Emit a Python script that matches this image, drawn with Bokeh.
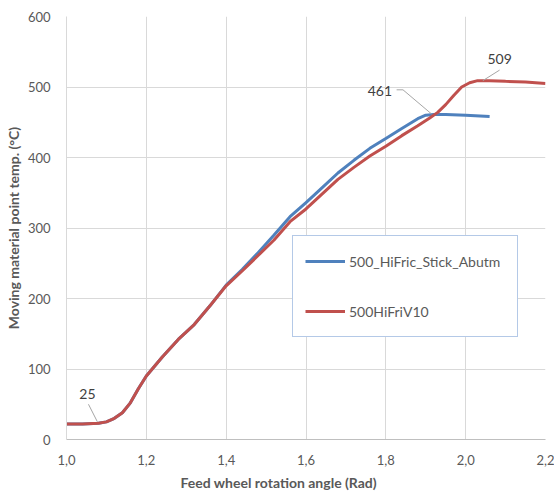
from bokeh.plotting import figure
from bokeh.models import Range1d, FixedTicker, Legend, LegendItem, Label, Title
from bokeh.embed import file_html
from bokeh.resources import INLINE

# ---- data ----
angle_stick = [1.00, 1.04, 1.08, 1.10, 1.12, 1.14, 1.16, 1.18, 1.20, 1.24, 1.28, 1.32,
               1.36, 1.40, 1.44, 1.48, 1.52, 1.56, 1.60, 1.64, 1.68, 1.72, 1.76, 1.80,
               1.84, 1.88, 1.90, 1.92, 1.95, 2.00, 2.06]
temp_stick = [22, 22, 23, 25, 30, 38, 52, 72, 90, 117, 142, 163,
              190, 219, 241, 265, 290, 316, 336, 357, 378, 396, 413, 427,
              441, 455, 460, 461, 461, 460, 458]

angle_v10 = [1.00, 1.04, 1.08, 1.10, 1.12, 1.14, 1.16, 1.18, 1.20, 1.24, 1.28, 1.32,
             1.36, 1.40, 1.44, 1.48, 1.52, 1.56, 1.60, 1.64, 1.68, 1.72, 1.76, 1.80,
             1.84, 1.88, 1.91, 1.93, 1.95, 1.97, 1.99, 2.01, 2.03, 2.06, 2.10, 2.15, 2.20]
temp_v10 = [22, 22, 23, 25, 30, 38, 52, 72, 90, 117, 142, 163,
            190, 218, 239, 261, 283, 309, 327, 348, 369, 386, 402, 416,
            431, 445, 456, 464, 475, 488, 500, 506, 509, 509, 508, 507, 505]

series_names = ["500_HiFric_Stick_Abutm", "500HiFriV10"]

x_ticks = [1.0, 1.2, 1.4, 1.6, 1.8, 2.0, 2.2]
x_tick_labels = ["1,0", "1,2", "1,4", "1,6", "1,8", "2,0", "2,2"]
y_ticks = [0, 100, 200, 300, 400, 500, 600]

x_title = "Feed  wheel rotation angle (Rad)"
y_title = "Moving material point temp. (°C)"

# annotated values and the curve points they refer to
note_texts = ["25", "461", "509"]
note_anchor_x = [1.0775, 1.914, 2.043]
note_anchor_y = [25, 462, 509]

FONT = "Lato"
TICK_COLOR = "#595959"
BLUE = "#4f81bd"
RED = "#c0504d"

p = figure(width=554, height=494, output_backend="svg", toolbar_location=None,
           x_range=Range1d(1.0, 2.2), y_range=Range1d(0, 600),
           min_border_left=66, min_border_right=9, min_border_top=16, min_border_bottom=55)
p.outline_line_color = None
p.background_fill_color = "white"
p.border_fill_color = "white"

# axes
p.xaxis.ticker = FixedTicker(ticks=x_ticks)
p.xaxis.major_label_overrides = {t: l for t, l in zip(x_ticks, x_tick_labels)}
p.yaxis.ticker = FixedTicker(ticks=y_ticks)
for ax in (p.xaxis[0], p.yaxis[0]):
    ax.major_tick_line_color = None
    ax.minor_tick_line_color = None
    ax.major_label_text_font = FONT
    ax.major_label_text_font_size = "13px"
    ax.major_label_text_color = TICK_COLOR
p.xaxis.axis_line_color = "#bfbfbf"
p.yaxis.axis_line_color = "#d9d9d9"
p.xaxis.major_label_standoff = 9
p.yaxis.major_label_standoff = 10

p.yaxis.axis_label = y_title
p.yaxis.axis_label_text_font = FONT
p.yaxis.axis_label_text_font_style = "bold"
p.yaxis.axis_label_text_font_size = "14px"
p.yaxis.axis_label_text_color = TICK_COLOR
p.yaxis.axis_label_standoff = 3

p.xgrid.grid_line_color = "#d9d9d9"
p.ygrid.grid_line_color = "#d9d9d9"

# x-axis title (left-aligned with an offset, as in the reference)
p.add_layout(Title(text=x_title, align="left", offset=114, standoff=8,
                   text_font=FONT, text_font_style="bold", text_font_size="14px",
                   text_color=TICK_COLOR), "below")

# series
r_blue = p.line(angle_stick, temp_stick, line_color=BLUE, line_width=3)
r_red = p.line(angle_v10, temp_v10, line_color=RED, line_width=3)

# value notes with leader lines
note_label_pos = [(1.0525, 65), (1.785, 495), (2.085, 540)]
leader_paths = [
    ([1.055, note_anchor_x[0]], [50, note_anchor_y[0]]),
    ([1.827, 1.843, note_anchor_x[1]], [496, 496, note_anchor_y[1]]),
    ([2.085, note_anchor_x[2]], [524, note_anchor_y[2]]),
]
for (lx, ly), txt, (px, py) in zip(note_label_pos, note_texts, leader_paths):
    p.line(px, py, line_color="#a6a6a6", line_width=1)
    p.add_layout(Label(x=lx, y=ly, text=txt, text_align="center", text_baseline="middle",
                       text_font=FONT, text_font_size="14px", text_color="#404040"))

legend = Legend(items=[LegendItem(label=series_names[0], renderers=[r_blue]),
                       LegendItem(label=series_names[1], renderers=[r_red])],
                location=(226, 102), padding=12, spacing=24, margin=0,
                label_height=26, glyph_height=26, glyph_width=40, label_standoff=4,
                label_width=156,
                label_text_font=FONT, label_text_font_size="14px", label_text_color=TICK_COLOR,
                border_line_color="#6a93d0", border_line_width=1,
                background_fill_color="white", background_fill_alpha=1.0)
p.add_layout(legend)

open("out.html", "w").write(file_html(p, INLINE))
